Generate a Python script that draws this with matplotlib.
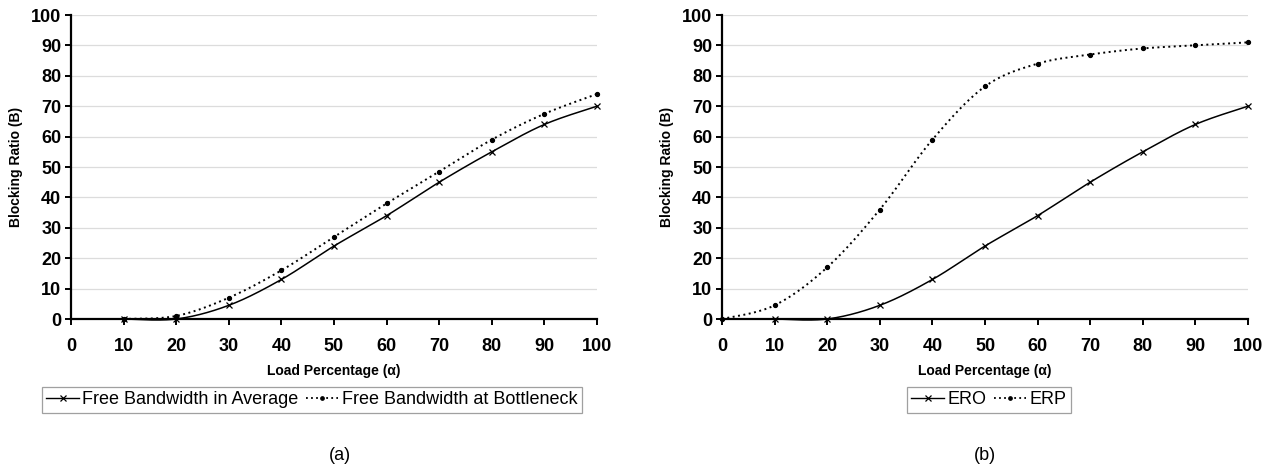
import numpy as np
import matplotlib
matplotlib.use("Agg")
import matplotlib.pyplot as plt

# data
load = [0, 10, 20, 30, 40, 50, 60, 70, 80, 90, 100]

# (a)
avg_x = load[1:]
avg_y = [0, 0, 4.5, 13, 24, 34, 45, 55, 64, 70]
bott_x = load[1:]
bott_y = [0, 1, 7, 16, 27, 38, 48.5, 59, 67.5, 74]

# (b)
ero_x = load[1:]
ero_y = [0, 0, 4.5, 13, 24, 34, 45, 55, 64, 70]
erp_x = load
erp_y = [0, 4.5, 17, 36, 59, 76.5, 84, 87, 89, 90, 91]

yticks = list(range(0, 101, 10))
xticks = load

plt.rcParams["font.family"] = ["Liberation Sans", "DejaVu Sans"]


def smooth(xs, ys, n=30):
    # Excel-like smoothed line: cubic Bezier segments (Catmull-Rom control points)
    p = np.column_stack([xs, ys]).astype(float)
    out = [p[0]]
    for i in range(len(p) - 1):
        p0 = p[i - 1] if i > 0 else p[i]
        p3 = p[i + 2] if i + 2 < len(p) else p[i + 1]
        c1 = p[i] + (p[i + 1] - p0) / 6
        c2 = p[i + 1] - (p3 - p[i]) / 6
        t = np.linspace(0, 1, n)[1:, None]
        seg = ((1 - t) ** 3 * p[i] + 3 * (1 - t) ** 2 * t * c1
               + 3 * (1 - t) * t ** 2 * c2 + t ** 3 * p[i + 1])
        out.extend(seg)
    out = np.array(out)
    return out[:, 0], out[:, 1]


def draw(ax, xa, ya, xb, yb):
    sx, sy = smooth(xa, ya)
    ax.plot(sx, sy, color="black", lw=1.1, clip_on=False)
    ax.plot(xa, ya, ls="none", marker="x", ms=4.5, mew=0.9, color="black", clip_on=False)
    tx, ty = smooth(xb, yb)
    ax.plot(tx, ty, color="black", lw=1.4, ls=(0, (1, 1.8)), clip_on=False)
    ax.plot(xb, yb, ls="none", marker="o", ms=2.8, color="black", clip_on=False)
    # proxy handles for legend
    ha, = ax.plot([], [], color="black", lw=1.0, marker="x", ms=4, mew=0.9)
    hb, = ax.plot([], [], color="black", lw=1.3, ls=(0, (1, 1.8)), marker="o", ms=2.4)

    ax.set_xlim(0, 100)
    ax.set_ylim(0, 100)
    ax.set_xticks(xticks)
    ax.set_yticks(yticks)
    ax.yaxis.grid(True, color="#dcdcdc", lw=0.9)
    ax.set_axisbelow(True)
    for s in ("top", "right"):
        ax.spines[s].set_visible(False)
    for s in ("left", "bottom"):
        ax.spines[s].set_linewidth(1.6)
    ax.tick_params(axis="y", length=4, width=1.4, pad=3, labelsize=13)
    ax.tick_params(axis="x", length=4, width=1.4, pad=10, labelsize=13)
    for lab in ax.get_xticklabels() + ax.get_yticklabels():
        lab.set_fontweight("bold")
    ax.set_xlabel("Load Percentage (\u03b1)", fontsize=10, fontweight="bold", labelpad=6)
    ax.set_ylabel("Blocking Ratio (B)", fontsize=10, fontweight="bold", labelpad=6)
    return ha, hb


fig = plt.figure(figsize=(12.76, 4.70), dpi=100)
ax1 = fig.add_axes([71 / 1276, 1 - 319 / 470, (597 - 71) / 1276, (319 - 15) / 470])
ax2 = fig.add_axes([722 / 1276, 1 - 319 / 470, (1248 - 722) / 1276, (319 - 15) / 470])

h1 = draw(ax1, avg_x, avg_y, bott_x, bott_y)
h2 = draw(ax2, ero_x, ero_y, erp_x, erp_y)

leg_kw = dict(loc="center", fontsize=13, frameon=True, fancybox=False,
              edgecolor="#888888", handlelength=1.8, handletextpad=0.2,
              columnspacing=0.4, borderpad=0.25, ncol=2, borderaxespad=0)
l1 = fig.legend(h1, ["Free Bandwidth in Average", "Free Bandwidth at Bottleneck"],
                bbox_to_anchor=(312 / 1276, 1 - 400 / 470), **leg_kw)
l2 = fig.legend(h2, ["ERO", "ERP"], bbox_to_anchor=(989 / 1276, 1 - 400 / 470), **leg_kw)
for l in (l1, l2):
    l.get_frame().set_linewidth(0.9)

fig.text(340 / 1276, 1 - 455 / 470, "(a)", ha="center", va="center", fontsize=13)
fig.text(985 / 1276, 1 - 455 / 470, "(b)", ha="center", va="center", fontsize=13)

fig.savefig("out.png", dpi=100, facecolor="white")
